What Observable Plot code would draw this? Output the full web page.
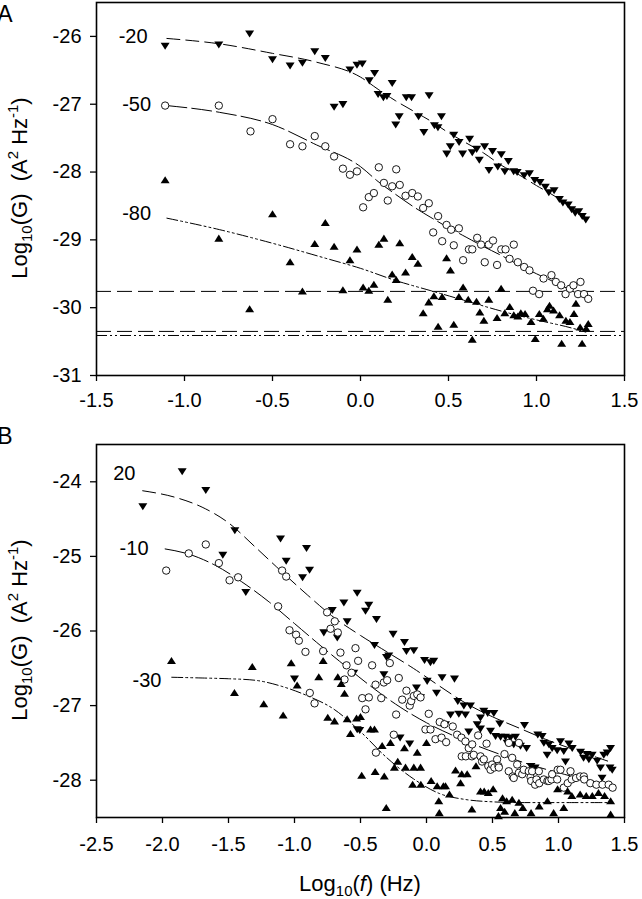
<!DOCTYPE html>
<html><head><meta charset="utf-8">
<script src="https://cdn.jsdelivr.net/npm/d3@7"></script>
<script src="https://cdn.jsdelivr.net/npm/@observablehq/plot@0.6"></script>
<style>body{margin:0;background:#fff} svg{display:block}</style>
</head><body><div id="chart"></div>
<script>
// ---------- Panel A data ----------
const A_xTicks = [-1.5, -1.0, -0.5, 0.0, 0.5, 1.0, 1.5];
const A_yTicks = [-31, -30, -29, -28, -27, -26];
const A_labels = [{t:"-20", x:-1.21, y:-26.0}, {t:"-50", x:-1.19, y:-27.0}, {t:"-80", x:-1.19, y:-28.61}];
const A_noise = [-29.76, -30.35, -30.41]; // -20, -50, -80 noise levels

const A_m20 = [[-1.11,-26.14],[-0.805,-26.12],[-0.63,-25.96],[-0.50,-26.34],[-0.40,-26.43],[-0.33,-26.39],[-0.26,-26.22],[-0.20,-26.32],[-0.15,-27.04],[-0.10,-27.0],[-0.06,-26.49],[-0.02,-26.42],[0.01,-26.40],[0.05,-26.65],[0.08,-26.54],[0.10,-26.85],[0.13,-26.9],[0.15,-26.88],[0.18,-26.69],[0.20,-27.3],[0.22,-27.18],[0.26,-26.9],[0.29,-26.9],[0.33,-27.18],[0.36,-27.41],[0.39,-26.87],[0.42,-27.31],[0.44,-27.34],[0.46,-27.18],[0.49,-27.73],[0.51,-27.62],[0.53,-27.45],[0.56,-27.56],[0.58,-27.73],[0.62,-27.51],[0.635,-27.71],[0.66,-27.66],[0.675,-27.82],[0.705,-27.62],[0.73,-27.97],[0.75,-27.69],[0.78,-27.92],[0.80,-27.74],[0.82,-27.99],[0.84,-27.84],[0.87,-27.99],[0.89,-28.0],[0.93,-28.05],[0.96,-28.02],[0.99,-28.12],[1.02,-28.15],[1.05,-28.22],[1.07,-28.3],[1.1,-28.27],[1.13,-28.4],[1.15,-28.45],[1.18,-28.48],[1.2,-28.55],[1.22,-28.6],[1.24,-28.58],[1.26,-28.65],[1.28,-28.7]];
const A_m50 = [[-1.11,-27.02],[-0.805,-27.02],[-0.625,-27.40],[-0.50,-27.22],[-0.40,-27.59],[-0.33,-27.62],[-0.26,-27.47],[-0.20,-27.62],[-0.15,-27.77],[-0.10,-27.95],[-0.06,-28.04],[-0.02,-27.99],[0.015,-28.52],[0.047,-28.37],[0.076,-28.31],[0.104,-27.93],[0.133,-28.16],[0.155,-28.42],[0.18,-28.21],[0.203,-27.96],[0.223,-28.19],[0.256,-28.35],[0.294,-28.31],[0.326,-28.36],[0.356,-28.53],[0.388,-28.46],[0.413,-28.89],[0.441,-28.65],[0.464,-29.02],[0.489,-28.78],[0.515,-28.85],[0.53,-29.08],[0.559,-28.83],[0.583,-29.30],[0.616,-29.14],[0.635,-29.14],[0.663,-28.97],[0.685,-29.07],[0.706,-29.33],[0.729,-29.07],[0.753,-29.01],[0.776,-29.37],[0.80,-29.14],[0.824,-29.14],[0.847,-29.28],[0.871,-29.07],[0.894,-29.33],[0.93,-29.4],[0.96,-29.45],[0.98,-29.75],[1.015,-29.8],[1.04,-29.57],[1.085,-29.52],[1.11,-29.62],[1.14,-29.67],[1.165,-29.8],[1.19,-29.72],[1.21,-29.67],[1.236,-29.8],[1.25,-29.62],[1.27,-29.8],[1.294,-29.87]];
const A_m80 = [[-1.11,-28.12],[-0.805,-28.98],[-0.63,-30.02],[-0.50,-28.62],[-0.40,-29.33],[-0.33,-29.76],[-0.26,-29.06],[-0.20,-28.75],[-0.15,-29.10],[-0.10,-29.74],[-0.06,-29.30],[-0.02,-29.14],[0.015,-29.70],[0.047,-29.75],[0.076,-29.66],[0.104,-29.07],[0.133,-28.98],[0.155,-29.88],[0.18,-29.51],[0.203,-29.59],[0.223,-29.05],[0.256,-29.48],[0.294,-29.25],[0.326,-29.35],[0.356,-30.08],[0.388,-29.92],[0.417,-29.83],[0.441,-30.28],[0.464,-29.84],[0.489,-29.27],[0.511,-29.45],[0.53,-30.25],[0.559,-29.84],[0.583,-29.70],[0.612,-29.88],[0.635,-30.47],[0.659,-29.91],[0.678,-30.07],[0.701,-30.19],[0.729,-29.88],[0.776,-30.15],[0.799,-29.72],[0.82,-30.08],[0.848,-29.99],[0.871,-30.11],[0.894,-30.13],[0.911,-30.08],[0.935,-30.09],[0.969,-30.21],[0.993,-30.46],[1.016,-30.09],[1.039,-30.16],[1.062,-30.02],[1.074,-29.97],[1.097,-30.04],[1.131,-30.11],[1.143,-30.53],[1.167,-30.19],[1.19,-30.21],[1.213,-30.09],[1.224,-29.94],[1.248,-30.29],[1.259,-30.53],[1.282,-30.31],[1.294,-30.24]];

const A_fit_m20 = [[-1.1,-26.03],[-0.8,-26.11],[-0.5,-26.25],[-0.25,-26.38],[0,-26.6],[0.1,-26.78],[0.2,-26.95],[0.3,-27.1],[0.4,-27.25],[0.5,-27.42],[0.6,-27.57],[0.7,-27.72],[0.8,-27.9],[0.9,-28.04],[1.0,-28.2],[1.1,-28.35],[1.2,-28.53],[1.28,-28.67]];
const A_fit_m50 = [[-1.1,-27.02],[-0.8,-27.12],[-0.5,-27.3],[-0.25,-27.6],[0,-27.92],[0.1,-28.14],[0.2,-28.33],[0.3,-28.51],[0.4,-28.67],[0.5,-28.82],[0.6,-28.96],[0.7,-29.1],[0.8,-29.23],[0.9,-29.37],[1.0,-29.5],[1.1,-29.62],[1.2,-29.75],[1.29,-29.87]];
const A_fit_m80 = [[-1.1,-28.68],[-0.8,-28.85],[-0.5,-29.05],[-0.2,-29.27],[0,-29.42],[0.2,-29.6],[0.4,-29.75],[0.6,-29.9],[0.8,-30.05],[1.0,-30.18],[1.2,-30.3],[1.28,-30.36]];

// ---------- Panel B data ----------
const B_xTicks = [-2.5, -2.0, -1.5, -1.0, -0.5, 0.0, 0.5, 1.0, 1.5];
const B_yTicks = [-28, -27, -26, -25, -24];
const B_labels = [{t:"20", x:-2.205, y:-23.89}, {t:"-10", x:-2.106, y:-24.9}, {t:"-30", x:-2.008, y:-26.66}];

const B_20 = [[-2.149,-24.33],[-1.851,-23.86],[-1.672,-24.11],[-1.543,-24.98],[-1.452,-24.65],[-1.369,-25.48],[-1.106,-24.76],[-1.063,-25.06],[-1.0,-26.64],[-0.939,-25.28],[-0.909,-24.89],[-0.886,-25.18],[-0.778,-26.02],[-0.714,-25.72],[-0.676,-26.09],[-0.626,-25.62],[-0.601,-25.87],[-0.551,-26.56],[-0.525,-25.49],[-0.525,-27.32],[-0.506,-27.33],[-0.462,-25.73],[-0.437,-25.65],[-0.394,-26.19],[-0.379,-25.84],[-0.323,-26.58],[-0.303,-26.35],[-0.286,-26.33],[-0.253,-26.04],[-0.2,-27.43],[-0.167,-26.15],[-0.152,-26.27],[-0.127,-27.51],[-0.096,-26.26],[-0.076,-26.76],[-0.045,-26.89],[-0.015,-26.39],[0.005,-26.67],[0.03,-26.42],[0.055,-26.40],[0.076,-26.83],[0.106,-27.23],[0.118,-26.62],[0.144,-27.25],[0.182,-27.12],[0.212,-26.64],[0.237,-26.94],[0.245,-27.11],[0.283,-27.0],[0.295,-27.12],[0.32,-27.35],[0.333,-27.0],[0.384,-27.25],[0.409,-27.16],[0.409,-27.31],[0.434,-27.07],[0.464,-27.10],[0.485,-27.34],[0.51,-27.10],[0.523,-27.41],[0.555,-27.24],[0.561,-27.42],[0.598,-27.42],[0.611,-27.5],[0.636,-27.43],[0.661,-27.52],[0.674,-27.42],[0.712,-27.54],[0.742,-27.26],[0.758,-27.57],[0.792,-27.81],[0.823,-27.83],[0.843,-27.39],[0.876,-27.41],[0.889,-27.5],[0.914,-27.66],[0.927,-27.52],[0.952,-27.57],[0.99,-27.6],[1.015,-27.48],[1.04,-27.61],[1.053,-27.75],[1.078,-27.51],[1.104,-27.57],[1.167,-27.62],[1.19,-27.7],[1.217,-27.65],[1.23,-27.72],[1.255,-27.66],[1.293,-27.74],[1.318,-27.83],[1.33,-27.97],[1.343,-27.66],[1.369,-27.63],[1.39,-27.83],[1.394,-27.57],[1.407,-27.86]];
const B_m10 = [[-1.972,-25.19],[-1.801,-24.96],[-1.672,-24.84],[-1.573,-25.09],[-1.492,-25.32],[-1.427,-25.28],[-1.124,-25.67],[-1.094,-25.19],[-1.063,-25.27],[-1.038,-25.99],[-0.988,-26.05],[-0.967,-26.13],[-0.917,-26.28],[-0.884,-26.83],[-0.848,-26.97],[-0.783,-26.27],[-0.753,-25.75],[-0.727,-25.97],[-0.695,-25.87],[-0.672,-26.02],[-0.652,-26.29],[-0.621,-26.65],[-0.606,-26.46],[-0.568,-26.56],[-0.538,-26.23],[-0.518,-26.4],[-0.487,-26.9],[-0.462,-27.05],[-0.437,-26.89],[-0.412,-26.46],[-0.386,-26.72],[-0.383,-27.63],[-0.343,-26.9],[-0.323,-26.69],[-0.298,-26.66],[-0.278,-26.43],[-0.248,-27.39],[-0.23,-27.12],[-0.21,-26.63],[-0.184,-26.92],[-0.152,-26.8],[-0.127,-27.0],[-0.116,-26.94],[-0.096,-26.87],[-0.07,-26.85],[-0.045,-26.89],[-0.008,-27.32],[0.017,-27.11],[0.03,-27.32],[0.068,-27.45],[0.1,-27.22],[0.114,-27.43],[0.136,-27.25],[0.149,-27.49],[0.199,-27.28],[0.232,-27.39],[0.265,-27.43],[0.267,-27.68],[0.295,-27.48],[0.298,-27.68],[0.32,-27.57],[0.344,-27.68],[0.346,-27.52],[0.358,-27.66],[0.391,-27.4],[0.409,-27.68],[0.421,-27.75],[0.434,-27.72],[0.455,-27.51],[0.468,-27.81],[0.485,-27.86],[0.497,-27.79],[0.514,-27.83],[0.535,-27.72],[0.545,-27.81],[0.548,-27.83],[0.591,-27.65],[0.623,-27.88],[0.624,-27.5],[0.649,-27.7],[0.653,-27.95],[0.661,-27.97],[0.687,-27.79],[0.7,-27.5],[0.7,-27.9],[0.725,-27.92],[0.737,-27.86],[0.775,-27.88],[0.788,-27.96],[0.793,-28.01],[0.8,-27.88],[0.823,-28.06],[0.833,-27.99],[0.851,-27.88],[0.854,-28.04],[0.889,-27.99],[0.916,-28.01],[0.927,-28.01],[0.947,-27.99],[0.952,-27.92],[0.99,-27.99],[0.994,-27.86],[1.015,-27.86],[1.04,-28.1],[1.07,-28.04],[1.091,-27.88],[1.1,-27.99],[1.133,-27.97],[1.164,-27.95],[1.192,-27.95],[1.195,-27.99],[1.241,-28.04],[1.287,-28.06],[1.333,-28.06],[1.38,-28.06],[1.41,-28.1]];
const B_m30 = [[-1.932,-26.40],[-1.455,-26.83],[-1.32,-26.48],[-1.233,-26.98],[-1.086,-27.13],[-1.025,-26.43],[-0.98,-26.73],[-0.816,-26.62],[-0.783,-26.4],[-0.748,-27.16],[-0.697,-27.21],[-0.672,-26.62],[-0.646,-26.71],[-0.621,-26.84],[-0.601,-27.18],[-0.576,-27.38],[-0.53,-27.17],[-0.5,-27.15],[-0.491,-27.94],[-0.424,-27.32],[-0.394,-27.32],[-0.389,-27.89],[-0.336,-27.54],[-0.32,-27.95],[-0.305,-28.37],[-0.273,-27.5],[-0.243,-27.83],[-0.218,-27.75],[-0.167,-27.57],[-0.159,-27.83],[-0.105,-28.06],[-0.096,-27.83],[-0.07,-27.63],[-0.045,-27.83],[-0.043,-28.06],[0.0,-27.5],[0.035,-28.01],[0.081,-28.08],[0.093,-28.28],[0.097,-28.44],[0.128,-28.08],[0.144,-28.08],[0.174,-28.19],[0.22,-27.87],[0.258,-28.04],[0.267,-27.92],[0.308,-27.92],[0.344,-28.39],[0.375,-27.81],[0.409,-28.15],[0.437,-28.15],[0.468,-28.17],[0.505,-28.12],[0.545,-28.48],[0.561,-28.37],[0.576,-28.24],[0.592,-28.42],[0.607,-28.28],[0.649,-28.26],[0.669,-28.44],[0.7,-28.3],[0.73,-28.37],[0.792,-28.44],[0.854,-28.35],[0.916,-28.28],[0.963,-28.44],[0.993,-28.12],[1.04,-28.37],[1.07,-28.15],[1.101,-28.21],[1.164,-28.19],[1.21,-28.21],[1.256,-28.21],[1.303,-28.17],[1.349,-28.21],[1.395,-28.28],[1.395,-28.46]];

const B_fit_20 = [[-2.15,-24.12],[-1.9,-24.21],[-1.7,-24.34],[-1.5,-24.55],[-1.3,-24.87],[-1.1,-25.2],[-0.9,-25.52],[-0.7,-25.82],[-0.5,-26.06],[-0.3,-26.28],[-0.1,-26.5],[0.1,-26.74],[0.3,-26.97],[0.5,-27.15],[0.7,-27.3],[0.9,-27.45],[1.1,-27.58],[1.3,-27.7],[1.4,-27.76]];
const B_fit_m10 = [[-1.98,-24.9],[-1.8,-24.97],[-1.6,-25.12],[-1.4,-25.34],[-1.2,-25.6],[-1.0,-25.9],[-0.8,-26.2],[-0.6,-26.49],[-0.4,-26.77],[-0.2,-27.02],[0,-27.23],[0.2,-27.4],[0.4,-27.55],[0.6,-27.68],[0.8,-27.8],[1.0,-27.9],[1.2,-27.99],[1.4,-28.06]];
const B_fit_m30 = [[-1.93,-26.62],[-1.7,-26.63],[-1.5,-26.64],[-1.3,-26.66],[-1.1,-26.74],[-0.9,-26.87],[-0.7,-27.05],[-0.5,-27.35],[-0.3,-27.7],[-0.1,-27.98],[0.1,-28.18],[0.3,-28.26],[0.5,-28.29],[0.7,-28.3],[0.9,-28.3],[1.1,-28.3],[1.3,-28.3],[1.4,-28.3]];

// ---------- symbols ----------
const triUp = {draw(ctx, size){ const r = Math.sqrt(size/Math.PI); ctx.moveTo(0,-r); ctx.lineTo(r*1.15, r*0.8); ctx.lineTo(-r*1.15, r*0.8); ctx.closePath(); }};
const triDown = {draw(ctx, size){ const r = Math.sqrt(size/Math.PI); ctx.moveTo(0,r); ctx.lineTo(r*1.15,-r*0.8); ctx.lineTo(-r*1.15,-r*0.8); ctx.closePath(); }};

const FONT = '"Liberation Sans", Arial, sans-serif';
const X = d => d[0], Y = d => d[1];
const DASH_LONG = "13,6", DASH_SOLIDISH = "20,5", DASH_DDOT = "11,3,2,3,2,3";

function panel({w, h, mt, mb, xd, yd, xt, yt, tickPad, series, fits, rules, labels}) {
  const marks = [
    Plot.frame({stroke: "black", strokeWidth: 1.6}),
    Plot.axisX({ticks: xt, tickFormat: d => d.toFixed(1), tickSize: 6, tickPadding: tickPad, label: null, strokeWidth: 1.3}),
    Plot.axisY({ticks: yt, tickFormat: d => String(d), tickSize: 6, tickPadding: 9, label: null, strokeWidth: 1.3}),
  ];
  for (const r of rules) marks.push(Plot.ruleY([r.y], {stroke: "black", strokeWidth: 1, strokeDasharray: r.dash}));
  for (const f of fits) marks.push(Plot.line(f.data, {x: X, y: Y, curve: "monotone-x", stroke: "black", strokeWidth: 1, strokeDasharray: f.dash}));
  for (const s of series) {
    if (s.kind === "circle") marks.push(Plot.dot(s.data, {x: X, y: Y, r: 3.7, fill: "white", stroke: "black", strokeWidth: 0.9}));
    else marks.push(Plot.dot(s.data, {x: X, y: Y, symbol: s.kind === "up" ? triUp : triDown, r: 3.9, fill: "black", stroke: "none"}));
  }
  marks.push(Plot.text(labels, {x: "x", y: "y", text: "t", textAnchor: "end", fontSize: 20, fill: "black"}));
  return Plot.plot({
    width: w, height: h, marginLeft: 96, marginRight: 18, marginTop: mt, marginBottom: mb,
    x: {domain: xd}, y: {domain: yd},
    style: {fontFamily: FONT, fontSize: "20px", color: "black", background: "white", overflow: "visible"},
    marks
  });
}

const svgA = panel({w: 642, h: 420, mt: 2, mb: 45, xd: [-1.5, 1.5], yd: [-31, -25.5], xt: A_xTicks, yt: A_yTicks, tickPad: 11,
  series: [{kind: "down", data: A_m20}, {kind: "circle", data: A_m50}, {kind: "up", data: A_m80}],
  fits: [{data: A_fit_m20, dash: DASH_LONG}, {data: A_fit_m50, dash: DASH_SOLIDISH}, {data: A_fit_m80, dash: DASH_DDOT}],
  rules: [{y: A_noise[0], dash: "15,6"}, {y: A_noise[1], dash: "15,6"}, {y: A_noise[2], dash: DASH_DDOT}],
  labels: A_labels});

const svgB = panel({w: 642, h: 479, mt: 24, mb: 82, xd: [-2.5, 1.5], yd: [-28.5, -23.5], xt: B_xTicks, yt: B_yTicks, tickPad: 13,
  series: [{kind: "down", data: B_20}, {kind: "circle", data: B_m10}, {kind: "up", data: B_m30}],
  fits: [{data: B_fit_20, dash: DASH_LONG}, {data: B_fit_m10, dash: DASH_SOLIDISH}, {data: B_fit_m30, dash: DASH_DDOT}],
  rules: [], labels: B_labels});

const root = document.getElementById("chart");
root.append(svgA, svgB);

function yTitle(svg, cy) {
  const t = d3.select(svg).append("text")
    .attr("transform", `translate(27,${cy}) rotate(-90)`)
    .attr("text-anchor", "middle").attr("font-size", 22).attr("font-family", FONT).attr("fill", "black");
  t.append("tspan").text("Log");
  t.append("tspan").attr("font-size", 15).attr("dy", 5).text("10");
  t.append("tspan").attr("dy", -5).text("(G)\u00a0\u00a0(A");
  t.append("tspan").attr("font-size", 15).attr("dy", -9).text("2");
  t.append("tspan").attr("dy", 9).text("\u00a0Hz");
  t.append("tspan").attr("font-size", 15).attr("dy", -9).text("-1");
  t.append("tspan").attr("dy", 9).text(")");
}
function panelLetter(svg, letter, y) {
  d3.select(svg).append("text").attr("x", 5).attr("y", y).attr("font-size", 23)
    .attr("font-family", FONT).attr("fill", "black").text(letter);
}
yTitle(svgA, 188);
yTitle(svgB, 210);
panelLetter(svgA, "A", 22);
panelLetter(svgB, "B", 24);

// x title for panel B
const xt = d3.select(svgB).append("text").attr("x", 360).attr("y", 471)
  .attr("text-anchor", "middle").attr("font-size", 22).attr("font-family", FONT).attr("fill", "black");
xt.append("tspan").text("Log");
xt.append("tspan").attr("font-size", 15).attr("dy", 5).text("10");
xt.append("tspan").attr("dy", -5).text("(");
xt.append("tspan").attr("font-style", "italic").text("f");
xt.append("tspan").text(") (Hz)");
</script></body></html>
